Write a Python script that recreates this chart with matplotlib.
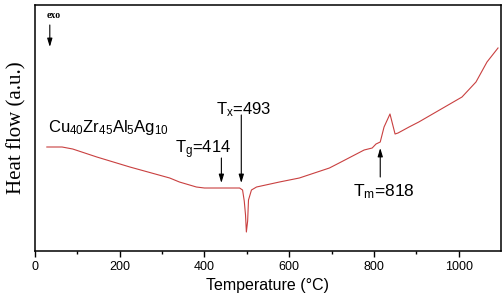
import matplotlib
matplotlib.use('Agg')
import matplotlib.pyplot as plt

# DSC trace (heat flow in arbitrary units)
temperature = [28, 64, 89, 146, 224, 318, 341, 381, 400, 412, 443, 483, 490,
               494, 497, 499, 502, 504, 511, 523, 577, 624, 695, 718, 777,
               796, 805, 815, 824, 838, 850, 857, 883, 906, 1008, 1041, 1067, 1093]
heat_flow = [104, 104, 102, 94, 84, 73, 69, 64, 63, 63, 63, 63, 61,
             50, 36, 19, 30, 51, 61, 64, 69, 73, 83, 88, 101,
             103, 107, 109, 124, 137, 117, 118, 124, 129, 154, 169, 189, 203]

# characteristic temperatures: (label, arrow x, arrow tail y, arrow tip y)
tg = (r'T$_g$=414', 440, 93, 68)
tx = (r'T$_x$=493', 487, 136, 68)
tm = (r'T$_\mathregular{m}$=818', 815, 74, 103)

plt.rcParams['mathtext.fontset'] = 'custom'
plt.rcParams['mathtext.rm'] = 'Liberation Sans'
plt.rcParams['mathtext.it'] = 'Liberation Sans'
plt.rcParams['font.family'] = 'Liberation Sans'

fig = plt.figure(figsize=(5.04, 3.06), dpi=100)
ax = fig.add_axes([0.0694, 0.1797, 0.9246, 0.804])

ax.plot(temperature, heat_flow, color='#c94040', lw=0.8)

ax.set_xlim(0, 1100)
ax.set_ylim(0, 246)
ax.set_xticks(range(0, 1001, 200))
ax.set_xticks(range(100, 1100, 200), minor=True)
ax.set_yticks([])
ax.tick_params(axis='x', which='major', direction='out', length=4, width=1, labelsize=9, pad=3)
ax.tick_params(axis='x', which='minor', direction='out', length=2.5, width=1)
for s in ax.spines.values():
    s.set_linewidth(1.1)

ax.set_xlabel('Temperature (°C)', fontsize=11.5, labelpad=4)
ax.set_ylabel('Heat flow (a.u.)', family='Liberation Serif', fontsize=15, labelpad=6)

arrow = dict(arrowstyle='-|>,head_length=0.5,head_width=0.15', color='black', lw=0.8,
             shrinkA=0, shrinkB=0)
for label, x, y0, y1 in (tg, tx, tm):
    ax.annotate('', xy=(x, y1), xytext=(x, y0), arrowprops=arrow)

ax.text(31, 119, r'Cu$_{40}$Zr$_{45}$Al$_5$Ag$_{10}$', fontsize=12)
ax.text(331, 98, tg[0], fontsize=12)
ax.text(427, 137, tx[0], fontsize=12)
ax.text(750, 55, tm[0], fontsize=12.5)

# exo marker
ax.text(28, 233, 'exo', family='Liberation Serif', fontsize=7, fontweight='bold')
ax.annotate('', xy=(35, 204), xytext=(35, 226), arrowprops=arrow)

fig.savefig('out.png', dpi=100)
